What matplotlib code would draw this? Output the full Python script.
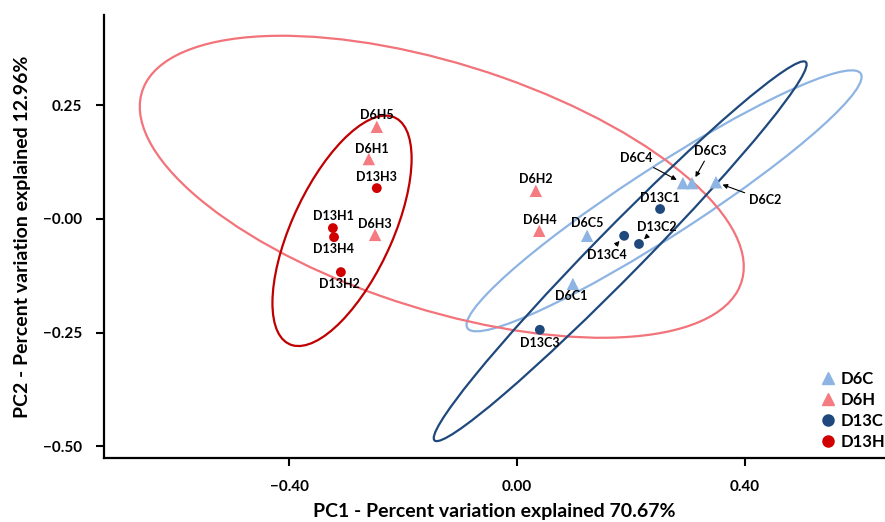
import numpy as np
import matplotlib
matplotlib.use('Agg')
import matplotlib.pyplot as plt
from matplotlib.patches import Ellipse
from matplotlib.lines import Line2D

# PCA scores
samples = ['D6C1', 'D6C2', 'D6C3', 'D6C4', 'D6C5',
           'D6H1', 'D6H2', 'D6H3', 'D6H4', 'D6H5',
           'D13C1', 'D13C2', 'D13C3', 'D13C4',
           'D13H1', 'D13H2', 'D13H3', 'D13H4']
groups = ['D6C'] * 5 + ['D6H'] * 5 + ['D13C'] * 4 + ['D13H'] * 4
pc1 = [0.098, 0.349, 0.307, 0.291, 0.123,
       -0.260, 0.033, -0.249, 0.039, -0.246,
       0.251, 0.214, 0.040, 0.188,
       -0.323, -0.309, -0.246, -0.321]
pc2 = [-0.143, 0.081, 0.079, 0.079, -0.037,
       0.132, 0.062, -0.035, -0.026, 0.203,
       0.022, -0.055, -0.244, -0.037,
       -0.020, -0.117, 0.068, -0.040]

# group ellipses: centre and shape matrix (sxx, sxy, syy)
group_names = ['D6C', 'D6H', 'D13C', 'D13H']
ell_centre = [(0.258, 0.040), (-0.132, 0.071), (0.181, -0.071), (-0.307, -0.026)]
ell_shape = [(0.1201, 0.0946, 0.0826),
             (0.2807, -0.0934, 0.1106),
             (0.1070, 0.1346, 0.1749),
             (0.0149, 0.0194, 0.0644)]

x_ticks = [-0.40, 0.00, 0.40]
x_ticklabels = ['\u22120.40', '0.00', '0.40']
y_ticks = [0.25, 0.00, -0.25, -0.50]
y_ticklabels = ['0.25', '\u22120.00', '\u22120.25', '\u22120.50']

# styling
point_color = {'D6C': '#8DB4E2', 'D6H': '#F47C80', 'D13C': '#1F497D', 'D13H': '#D00000'}
line_color = {'D6C': '#8DB4E2', 'D6H': '#F2737A', 'D13C': '#1F497D', 'D13H': '#C00000'}
marker = {'D6C': '^', 'D6H': '^', 'D13C': 'o', 'D13H': 'o'}
msize = {'D6C': 80, 'D6H': 80, 'D13C': 50, 'D13H': 50}

# label offsets in pixels, (dx, dy, arrow)
label_off = {
    'D6H5': (0, 12, False), 'D6H1': (3, 10, False), 'D13H3': (0, 11, False),
    'D13H1': (1, 12, False), 'D13H4': (-1, -12, False), 'D6H3': (0, 11, False),
    'D13H2': (-1, -12, False), 'D6H2': (0, 12, False), 'D6H4': (1, 11, False),
    'D6C5': (0, 13, False), 'D6C1': (-2, -12, False), 'D13C3': (0, -13, False),
    'D13C1': (0, 11, False),
    'D6C4': (-47, 25, True), 'D6C3': (18, 32, True), 'D6C2': (49, -18, True),
    'D13C4': (-17, -19, True), 'D13C2': (18, 17, True),
}

plt.rcParams['font.family'] = ['Lato', 'DejaVu Sans']
plt.rcParams['font.weight'] = 'bold'

fig = plt.figure(figsize=(8.85, 5.22), dpi=100)
ax = fig.add_axes([104 / 885, 64 / 522, 781 / 885, 443 / 522])

# ellipses
for name, c, s in zip(group_names, ell_centre, ell_shape):
    S = np.array([[s[0], s[1]], [s[1], s[2]]])
    vals, vecs = np.linalg.eigh(S)
    ang = np.degrees(np.arctan2(vecs[1, 1], vecs[0, 1]))
    e = Ellipse(c, 2 * np.sqrt(vals[1]), 2 * np.sqrt(vals[0]), angle=ang,
                fill=False, edgecolor=line_color[name], lw=1.6, zorder=2)
    ax.add_patch(e)

# points
pc1 = np.array(pc1)
pc2 = np.array(pc2)
groups_arr = np.array(groups)
for name in group_names:
    m = groups_arr == name
    ax.scatter(pc1[m], pc2[m], marker=marker[name], s=msize[name],
               color=point_color[name], edgecolors='none', zorder=3)

# labels
for s, x, y in zip(samples, pc1, pc2):
    dx, dy, arrow = label_off[s]
    kw = dict(textcoords='offset pixels', ha='center', va='center',
              fontsize=9, fontweight='bold', zorder=4)
    if arrow:
        kw['arrowprops'] = dict(arrowstyle='-|>', color='black', lw=0.8,
                                mutation_scale=7, shrinkA=1, shrinkB=5)
    ax.annotate(s, (x, y), xytext=(dx, dy), **kw)

ax.set_xlim(-0.7246, 0.6456)
ax.set_ylim(-0.5264, 0.4493)
ax.set_xticks(x_ticks)
ax.set_xticklabels(x_ticklabels)
ax.set_yticks(y_ticks)
ax.set_yticklabels(y_ticklabels)

for side in ['top', 'right']:
    ax.spines[side].set_visible(False)
for side in ['left', 'bottom']:
    ax.spines[side].set_linewidth(1.6)
ax.tick_params(axis='both', direction='out', length=6, width=1.5,
               labelsize=11, pad=10)

ax.set_xlabel('PC1 - Percent variation explained 70.67%', fontsize=14,
              fontweight='bold')
ax.set_ylabel('PC2 - Percent variation explained 12.96%', fontsize=14,
              fontweight='bold')
ax.xaxis.set_label_coords(0.5, -0.102)
ax.yaxis.set_label_coords(-0.094, 0.5)

handles = [Line2D([], [], marker=marker[n], color=point_color[n], ls='none',
                  markersize=9 if marker[n] == '^' else 8) for n in group_names]
ax.legend(handles, group_names, loc='lower right', bbox_to_anchor=(1.02, -0.015),
          frameon=False, fontsize=12, handletextpad=0.2, labelspacing=0.3,
          handlelength=1.2)

fig.savefig('out.png', dpi=100)
